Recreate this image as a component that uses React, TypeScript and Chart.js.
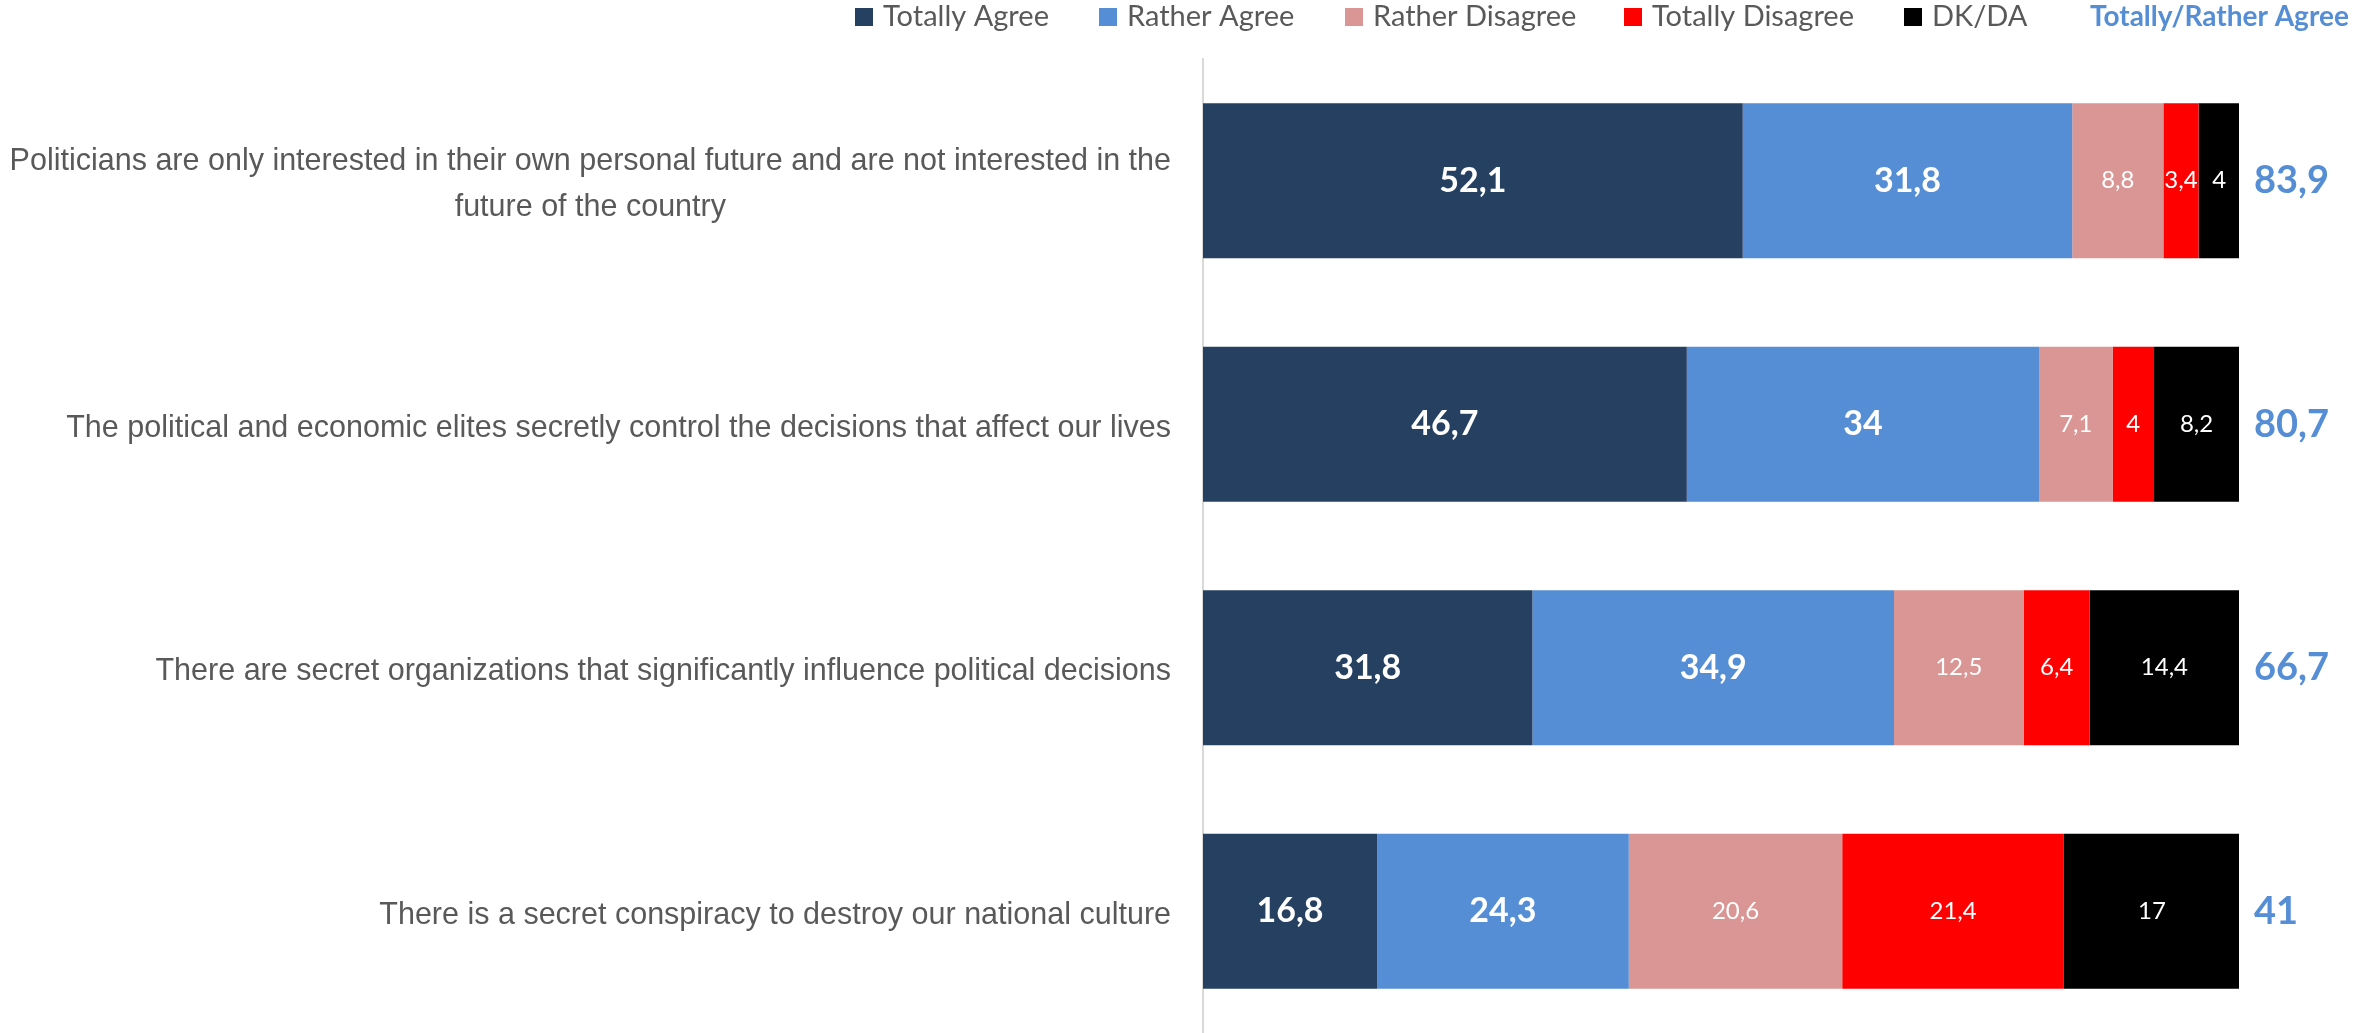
import { useEffect, useRef } from "react";
import { Chart, registerables } from "chart.js";

Chart.register(...registerables);

const W = 2361;
const H = 1033;

const categories: (string | string[])[] = [
  [
    "Politicians are only interested in their own personal future and are not interested in the",
    "future of the country",
  ],
  "The political and economic elites secretly control the decisions that affect our lives",
  "There are secret organizations that significantly influence political decisions",
  "There is a secret conspiracy to destroy our national culture",
];

const seriesNames = ["Totally Agree", "Rather Agree", "Rather Disagree", "Totally Disagree", "DK/DA"];
const seriesColors = ["#264061", "#558ED5", "#D99694", "#FF0000", "#000000"];

const totallyAgree = [52.1, 46.7, 31.8, 16.8];
const ratherAgree = [31.8, 34, 34.9, 24.3];
const ratherDisagree = [8.8, 7.1, 12.5, 20.6];
const totallyDisagree = [3.4, 4, 6.4, 21.4];
const dkDa = [4, 8.2, 14.4, 17];

const totalLabel = "Totally/Rather Agree";
const totalAgree = [83.9, 80.7, 66.7, 41];

const seriesValues = [totallyAgree, ratherAgree, ratherDisagree, totallyDisagree, dkDa];

// legend layout (pixel positions of the legend markers)
const legendMarkerX = [855, 1099, 1345, 1624, 1904];
const legendTotalX = 2090;

const fmt = (v: number) => String(v).replace(".", ",");

const overlayPlugin = {
  id: "overlay",
  afterDatasetsDraw(chart: any) {
    const ctx: CanvasRenderingContext2D = chart.ctx;
    const yScale = chart.scales.y;
    const xScale = chart.scales.x;
    ctx.save();

    // Category labels
    ctx.fillStyle = "#595959";
    ctx.font = "30.5px 'Liberation Sans', Arial, sans-serif";
    ctx.textBaseline = "middle";
    const rightEdge = 1171;
    categories.forEach((lab, i) => {
      const cy = yScale.getPixelForValue(i) + 4;
      const lines = Array.isArray(lab) ? lab : [lab];
      const lh = 46;
      if (lines.length === 1) {
        ctx.textAlign = "right";
        ctx.fillText(lines[0], rightEdge, cy);
      } else {
        const maxW = Math.max(...lines.map((l) => ctx.measureText(l).width));
        const cx = rightEdge - maxW / 2;
        ctx.textAlign = "center";
        lines.forEach((l, k) => {
          ctx.fillText(l, cx, cy + (k - (lines.length - 1) / 2) * lh);
        });
      }
    });

    // Data labels inside bars
    chart.data.datasets.forEach((ds: any, di: number) => {
      const meta = chart.getDatasetMeta(di);
      meta.data.forEach((bar: any, i: number) => {
        const v = ds.data[i];
        const cx = (bar.x + bar.base) / 2;
        ctx.fillStyle = "#FFFFFF";
        ctx.textAlign = "center";
        ctx.textBaseline = "middle";
        ctx.font = di < 2 ? "bold 34px Lato, sans-serif" : "24px Lato, sans-serif";
        ctx.fillText(fmt(v), cx, bar.y);
      });
    });

    // Totals to the right of bars
    ctx.fillStyle = "#558ED5";
    ctx.font = "bold 38px Lato, sans-serif";
    ctx.textAlign = "left";
    ctx.textBaseline = "middle";
    totalAgree.forEach((t, i) => {
      const sum = seriesValues.reduce((a, s) => a + s[i], 0);
      const x = xScale.getPixelForValue(Math.min(sum, 100)) + 15;
      ctx.fillText(fmt(t), x, yScale.getPixelForValue(i));
    });

    // Legend
    const ly = 17;
    ctx.font = "29px Lato, sans-serif";
    ctx.textBaseline = "middle";
    ctx.textAlign = "left";
    seriesNames.forEach((name, i) => {
      const x = legendMarkerX[i];
      ctx.fillStyle = seriesColors[i];
      ctx.fillRect(x, ly - 9, 18, 18);
      ctx.fillStyle = "#595959";
      ctx.fillText(name, x + 28, ly);
    });
    ctx.fillStyle = "#558ED5";
    ctx.font = "bold 28px Lato, sans-serif";
    ctx.fillText(totalLabel, legendTotalX, ly);

    ctx.restore();
  },
};

export default function App() {
  const ref = useRef<HTMLCanvasElement>(null);

  useEffect(() => {
    const chart = new Chart(ref.current!, {
      type: "bar",
      data: {
        labels: categories.map((c) => (Array.isArray(c) ? c.join(" ") : c)),
        datasets: seriesNames.map((name, i) => ({
          label: name,
          data: seriesValues[i],
          backgroundColor: seriesColors[i],
          borderWidth: 0,
          barPercentage: 0.636,
          categoryPercentage: 1,
        })),
      },
      options: {
        indexAxis: "y",
        responsive: false,
        animation: false,
        devicePixelRatio: 1,
        layout: { padding: { top: 59, right: 122, left: 0, bottom: 0 } },
        plugins: {
          legend: { display: false },
          tooltip: { enabled: false },
        },
        scales: {
          x: { stacked: true, min: 0, max: 100, display: false },
          y: {
            stacked: true,
            grid: { display: false, drawTicks: false },
            border: { display: true, color: "#D9D9D9", width: 2 },
            ticks: { display: false },
            afterFit: (s: any) => {
              s.width = 1203;
            },
          },
        },
      },
      plugins: [overlayPlugin],
    });
    return () => chart.destroy();
  }, []);

  return (
    <div style={{ position: "fixed", left: 0, top: 0, width: W, height: H, background: "#fff" }}>
      <canvas ref={ref} width={W} height={H} style={{ display: "block", width: W, height: H }} />
    </div>
  );
}
